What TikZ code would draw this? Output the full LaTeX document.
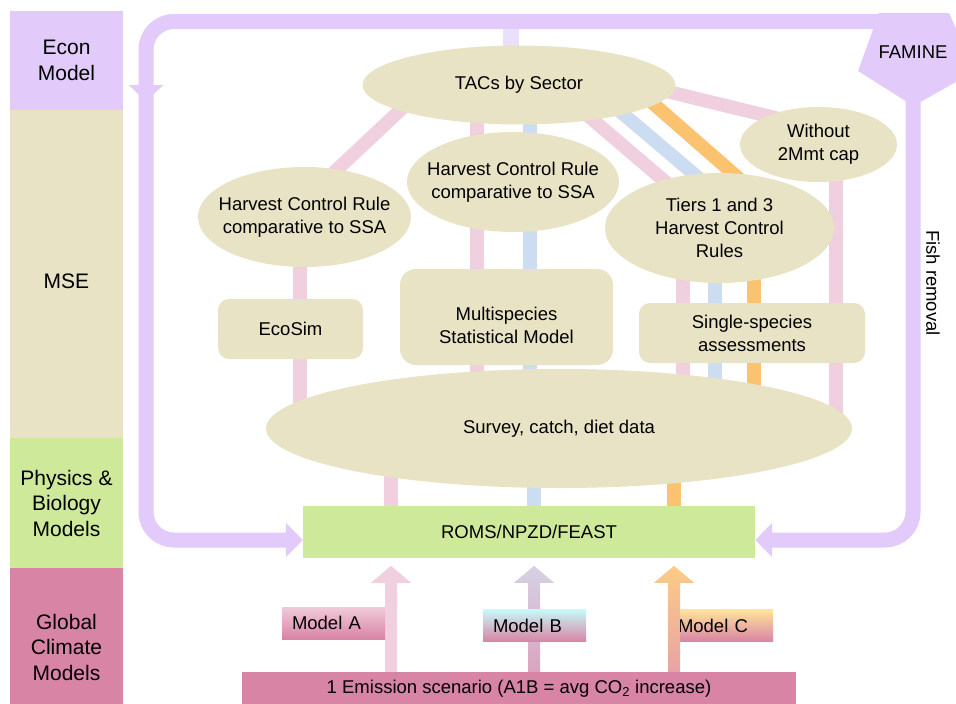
\documentclass[tikz,border=0pt]{standalone}
\usepackage{fontspec}
\setmainfont{Liberation Sans}
\usetikzlibrary{shapes.geometric,arrows.meta,backgrounds,calc,positioning}

\definecolor{econcol}{HTML}{E2CAFB}
\definecolor{stubcol}{HTML}{ECDFFC}
\definecolor{msecol}{HTML}{E8E3C5}
\definecolor{physcol}{HTML}{CFE99B}
\definecolor{climcol}{HTML}{D884A4}
\definecolor{pinkcol}{HTML}{F0D0DE}
\definecolor{bluecol}{HTML}{CCDDF2}
\definecolor{orangecol}{HTML}{FBC26F}

\begin{document}
\begin{tikzpicture}[
  x=1pt, y=-1pt,
  every node/.style={align=center, inner sep=0pt, text=black, font=\fontsize{18.5}{23}\selectfont},
  band/.style={minimum width=113pt, font=\fontsize{21}{25.5}\selectfont},
  oval/.style={ellipse, fill=msecol},
  toolbox/.style={rectangle, rounded corners=11pt, fill=msecol},
  modelbox/.style={minimum height=32pt, text width=83pt, align=left, inner xsep=10pt, bottom color=climcol},
  pinkline/.style={draw=pinkcol, line width=13.5pt},
  blueline/.style={draw=bluecol, line width=13.5pt},
  orangeline/.style={draw=orangecol, line width=13.5pt},
  loopline/.style={draw=econcol, line width=15pt, rounded corners=28pt, -{Triangle[width=33pt,length=17pt]}}
]
\useasboundingbox (0,0) rectangle (956,704);

% model levels
\node[band, fill=econcol, minimum height=99pt] (econ) at (66.5,60.5) {Econ\\Model};
\node[band, fill=msecol, minimum height=328pt] (mse) at (66.5,274) {};
\node[band] (msetxt) at (66.5,281) {MSE};
\node[band, fill=physcol, minimum height=130pt] (phys) at (66.5,503) {Physics \&\\Biology\\Models};
\node[band, fill=climcol, minimum height=158pt] (clim) at (66.5,647) {Global\\Climate\\Models};

% columns of the coloured runs
\coordinate (colA) at (391,0);
\coordinate (colB) at (534,0);
\coordinate (colC) at (674,0);
\coordinate (colE) at (300,0);
\coordinate (colMp) at (477,0);
\coordinate (colMb) at (530,0);
\coordinate (colSp) at (683,0);
\coordinate (colSb) at (715,0);
\coordinate (colSo) at (754,0);
\coordinate (colN) at (836,0);
\coordinate (colT) at (511,0);

% economic loop
\coordinate (ltop) at (146,21.5);
\coordinate (lmid) at (146,102);
\coordinate (lbot) at (146,540);
\coordinate (rbot) at (913,540);

% MSE
\node[oval, minimum width=313pt, minimum height=79pt] (tac) at (519,85) {TACs by Sector};
\node[oval, inner xsep=-15pt, minimum width=213pt, minimum height=100pt] (hcrl) at (304.5,217) {Harvest Control Rule\\comparative to SSA};
\node[oval, inner xsep=-15pt, minimum width=212pt, minimum height=100pt] (hcrm) at (513,182) {Harvest Control Rule\\comparative to SSA};
\node[oval, minimum width=229pt, minimum height=110pt] (tiers) at (719.5,228) {Tiers 1 and 3\\Harvest Control\\Rules};
\node[oval, minimum width=157pt, minimum height=75pt] (nocap) at (818.5,144.5) {Without\\2Mmt cap};
\node[toolbox, minimum width=145pt, minimum height=60pt] (ecosim) at (290.5,329) {EcoSim};
\node[toolbox, rounded corners=16pt, minimum width=213pt, minimum height=96pt] (multi) at (506.5,317) {};
\node (multitxt) at (506.5,325) {Multispecies\\Statistical Model};
\node[toolbox, minimum width=226pt, minimum height=60pt] (single) at (752,333) {Single-species\\assessments};
\node[oval, minimum width=586pt, minimum height=119pt] (survey) at (559,428.5) {Survey, catch, diet data};

% physics and climate
\node[fill=physcol, minimum width=452pt, minimum height=52pt] (roms) at (529,532) {ROMS/NPZD/FEAST};
\node[fill=climcol, minimum width=554pt, minimum height=34pt] (emis) at (519,689) {1 Emission scenario (A1B = avg CO\textsubscript{2} increase)};

\node (famine) at (913,52) {};
\draw[loopline] (famine.center |- ltop) -- (ltop) -- (lmid);
\draw[loopline] ([yshift=8pt]lmid) -- (lbot) -- (lbot -| roms.west);
\draw[loopline] (famine.center) -- (rbot) -- (rbot -| roms.east);
\fill[econcol] (879,13) -- (949,13) -- (975,71) -- (913.5,106) -- (858,71) -- cycle;
\node (famtxt) at (913,52) {FAMINE};
\node[rotate=-90] (fish) at (933,283) {Fish removal};

\node[modelbox, text width=85pt, top color={rgb,255:red,255;green,228;blue,154}] (modc) at (720.5,625.5) {Model C};
\fill[pinkcol] ($(colA |- emis.north)+(-6,0)$) -- ++(0,-89) -- ++(-14,0) -- ++(20,-17) -- ++(20,17) -- ++(-14,0) -- ++(0,89) -- cycle;
\shade[top color={rgb,255:red,214;green,210;blue,228}, bottom color={rgb,255:red,217;green,164;blue,190}]
  ($(colB |- emis.north)+(-6,0)$) -- ++(0,-89) -- ++(-14,0) -- ++(20,-17) -- ++(20,17) -- ++(-14,0) -- ++(0,89) -- cycle;
\shade[top color={rgb,255:red,252;green,204;blue,134}, bottom color={rgb,255:red,232;green,163;blue,165}]
  ($(colC |- emis.north)+(-6,0)$) -- ++(0,-89) -- ++(-14,0) -- ++(20,-17) -- ++(20,17) -- ++(-14,0) -- ++(0,89) -- cycle;
\node[modelbox, top color={rgb,255:red,240;green,202;blue,217}] (moda) at (333.5,623) {Model A};
\node[modelbox, top color={rgb,255:red,198;green,249;blue,249}] (modb) at (534.5,625.5) {Model B};

\begin{scope}[on background layer]
  \fill[white] (0,0) rectangle (956,704);
  \draw[draw=stubcol, line width=16pt] (colT |- tac.center) -- (colT |- ltop);
  % model A runs
  \draw[pinkline] (colA |- roms.north) -- (colA |- survey.center);
  \draw[pinkline] (colE |- survey.center) -- (colE |- hcrl.center);
  \draw[pinkline] ($(hcrl.center)+(-18,0)$) -- ($(tac.center)+(-92,0)$);
  \draw[pinkline] (colMp |- survey.center) -- (colMp |- tac.center);
  \draw[pinkline] (colSp |- survey.center) -- (colSp |- tiers.center);
  \draw[pinkline] (tiers.center) -- ($(tac.center)+(33,0)$);
  \draw[pinkline] (colN |- survey.center) -- (colN |- nocap.center);
  \draw[pinkline] ($(nocap.center)+(66,0)$) -- ($(tac.center)+(122,0)$);
  % model B runs
  \draw[blueline] (colB |- roms.north) -- (colB |- survey.center);
  \draw[blueline] (colMb |- survey.center) -- (colMb |- tac.center);
  \draw[blueline] (colSb |- survey.center) -- (colSb |- tiers.center);
  \draw[blueline] ($(tiers.center)+(38,0)$) -- ($(tac.center)+(70,0)$);
  % model C runs
  \draw[orangeline] (colC |- roms.north) -- (colC |- survey.center);
  \draw[orangeline] (colSo |- survey.center) -- (colSo |- tiers.center);
  \draw[orangeline] ($(tiers.center)+(76,0)$) -- ($(tac.center)+(113,0)$);
\end{scope}
\end{tikzpicture}
\end{document}
